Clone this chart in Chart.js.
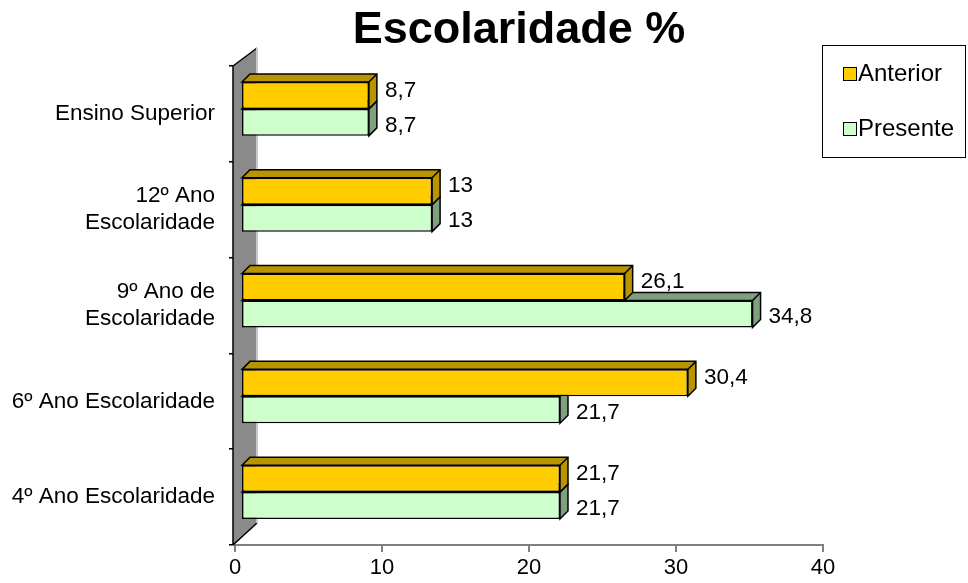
<!DOCTYPE html>
<html>
<head>
<meta charset="utf-8">
<script src="https://cdn.jsdelivr.net/npm/chart.js@4"></script>
<style>
  html, body { margin: 0; padding: 0; background: #fff; }
  #wrap { width: 968px; height: 583px; }
</style>
</head>
<body>
<div id="wrap"><canvas id="barChart" width="968" height="583"></canvas></div>
<script>
// data
var categories = ["Ensino Superior", ["12º Ano", "Escolaridade"], ["9º Ano de", "Escolaridade"], "6º Ano Escolaridade", "4º Ano Escolaridade"];
var anterior = [8.7, 13, 26.1, 30.4, 21.7];
var presente = [8.7, 13, 34.8, 21.7, 21.7];
var xTicks = [0, 10, 20, 30, 40];

var FONT = "'Liberation Sans', Arial, sans-serif";
var DEPTH = 8;
var faceColors = ['#b89400', '#7fa07f'];
var labelShift = [-5, 3];

function fmt(v) { return String(v).replace('.', ','); }

// 3d look: wall on the left, top and side faces on each bar, value labels
var fake3d = {
  id: 'fake3d',
  beforeDatasetsDraw: function (chart) {
    var ctx = chart.ctx, a = chart.chartArea;
    var x0 = chart.scales.x.getPixelForValue(0);
    // wall
    ctx.save();
    ctx.beginPath();
    ctx.moveTo(x0 - 2, a.top);
    ctx.lineTo(x0 + 22, a.top - 18);
    ctx.lineTo(x0 + 22, a.bottom - 22);
    ctx.lineTo(x0 - 2, a.bottom);
    ctx.closePath();
    ctx.fillStyle = '#8a8a8a';
    ctx.fill();
    ctx.strokeStyle = '#000';
    ctx.lineWidth = 1.5;
    ctx.beginPath();
    ctx.moveTo(x0 - 2, a.bottom);
    ctx.lineTo(x0 - 2, a.top);
    ctx.lineTo(x0 + 22, a.top - 18);
    ctx.moveTo(x0 - 2, a.bottom);
    ctx.lineTo(x0 + 22, a.bottom - 22);
    ctx.stroke();
    ctx.strokeStyle = '#c8c8c8';
    ctx.lineWidth = 2;
    ctx.beginPath();
    ctx.moveTo(x0 + 22, a.top - 18);
    ctx.lineTo(x0 + 22, a.bottom - 22);
    ctx.stroke();
    ctx.restore();

    ctx.save();
    ctx.translate(6, -5);
    for (var d = chart.data.datasets.length - 1; d >= 0; d--) {
      var meta = chart.getDatasetMeta(d);
      meta.data.forEach(function (bar) {
        var p = bar.getProps(['x', 'y', 'base', 'height'], true);
        var top = p.y - p.height / 2, bot = p.y + p.height / 2;
        ctx.lineWidth = 1.5;
        ctx.strokeStyle = '#000';
        ctx.fillStyle = faceColors[d];
        ctx.beginPath();
        ctx.moveTo(p.base, top);
        ctx.lineTo(p.base + DEPTH, top - DEPTH);
        ctx.lineTo(p.x + DEPTH, top - DEPTH);
        ctx.lineTo(p.x + DEPTH, bot - DEPTH);
        ctx.lineTo(p.x, bot);
        ctx.lineTo(p.x, top);
        ctx.closePath();
        ctx.fill();
        ctx.stroke();
        ctx.beginPath();
        ctx.moveTo(p.x, top);
        ctx.lineTo(p.x + DEPTH, top - DEPTH);
        ctx.stroke();
      });
    }
  },
  afterDatasetsDraw: function (chart) {
    var ctx = chart.ctx;
    ctx.font = '22.5px ' + FONT;
    ctx.fillStyle = '#000';
    ctx.textAlign = 'left';
    ctx.textBaseline = 'middle';
    chart.data.datasets.forEach(function (ds, d) {
      chart.getDatasetMeta(d).data.forEach(function (bar, i) {
        var p = bar.getProps(['x', 'y'], true);
        ctx.fillText(fmt(ds.data[i]), p.x + DEPTH + 8, p.y + labelShift[d]);
      });
    });
    ctx.restore();
  },
  afterDraw: function (chart) {
    var ctx = chart.ctx;
    ctx.save();
    // title
    ctx.font = 'bold 45px ' + FONT;
    ctx.fillStyle = '#000';
    ctx.textAlign = 'center';
    ctx.textBaseline = 'middle';
    ctx.fillText('Escolaridade %', 519, 31);
    // legend
    ctx.fillStyle = '#fff';
    ctx.fillRect(822, 45, 143, 112);
    ctx.strokeStyle = '#000';
    ctx.lineWidth = 1;
    ctx.strokeRect(822.5, 45.5, 143, 112);
    ctx.font = '24px ' + FONT;
    ctx.textAlign = 'left';
    chart.data.datasets.forEach(function (ds, d) {
      var y = 74 + d * 55;
      ctx.fillStyle = ds.backgroundColor;
      ctx.fillRect(843.5, y - 6.5, 13, 13);
      ctx.strokeRect(843.5, y - 6.5, 13, 13);
      ctx.fillStyle = '#000';
      ctx.fillText(ds.label, 858, y);
    });
    ctx.restore();
  }
};

var ctxB = document.getElementById('barChart').getContext('2d');
var myBarChart = new Chart(ctxB, {
  type: 'bar',
  data: {
    labels: categories,
    datasets: [
      {
        label: 'Anterior',
        data: anterior,
        backgroundColor: '#ffcc00',
        borderColor: '#000',
        borderWidth: 1.5,
        borderSkipped: false
      },
      {
        label: 'Presente',
        data: presente,
        backgroundColor: '#ccffcc',
        borderColor: '#000',
        borderWidth: 1.5,
        borderSkipped: false
      }
    ]
  },
  options: {
    indexAxis: 'y',
    responsive: false,
    animation: false,
    barPercentage: 1,
    categoryPercentage: 0.5625,
    layout: { padding: { top: 66, right: 145, bottom: 0, left: 0 } },
    plugins: {
      legend: { display: false },
      title: { display: false },
      tooltip: { enabled: false }
    },
    scales: {
      x: {
        min: 0,
        max: 40,
        afterBuildTicks: function (axis) {
          axis.ticks = xTicks.map(function (v) { return { value: v }; });
        },
        afterFit: function (axis) { axis.height = 38; },
        grid: {
          drawOnChartArea: false,
          drawTicks: true,
          tickLength: 7,
          color: '#808080',
          lineWidth: 2
        },
        border: { color: '#808080', width: 2 },
        ticks: {
          color: '#000',
          padding: 3,
          font: { family: FONT, size: 22 }
        }
      },
      y: {
        afterFit: function (axis) { axis.width = 235; },
        grid: {
          offset: true,
          drawOnChartArea: false,
          tickLength: 6,
          color: '#000',
          lineWidth: 1.5
        },
        border: { display: false },
        ticks: {
          color: '#000',
          padding: 14,
          font: { family: FONT, size: 22.5 }
        }
      }
    }
  },
  plugins: [fake3d]
});
</script>
</body>
</html>
